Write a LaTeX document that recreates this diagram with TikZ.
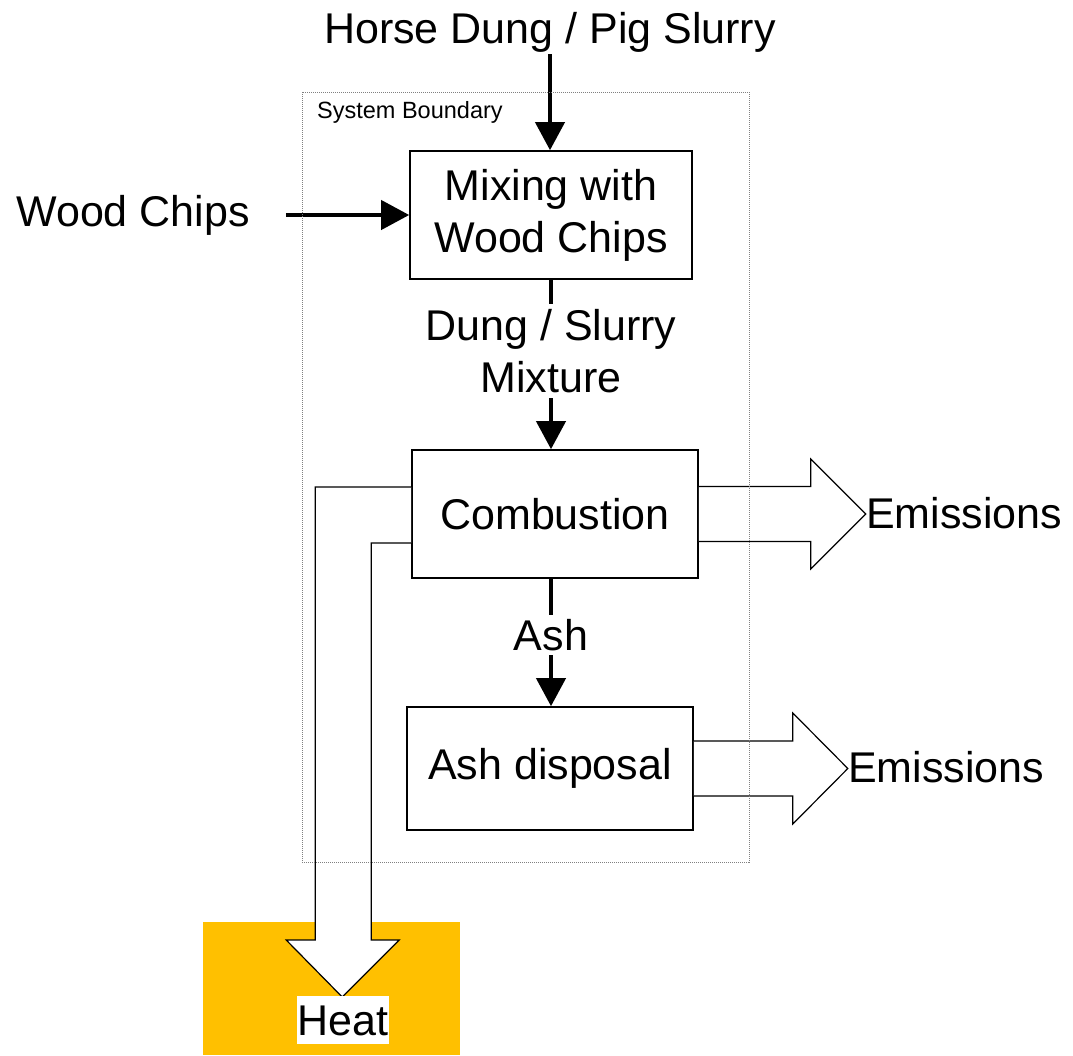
\documentclass[tikz,border=0pt]{standalone}
\usepackage{fontspec}
\setmainfont{Liberation Sans}
\usetikzlibrary{calc,positioning,arrows.meta}
\definecolor{heatorange}{HTML}{FFC000}
\definecolor{boundgray}{gray}{0.5}

\begin{document}
\begin{tikzpicture}[x=1pt,y=-1pt,
        every node/.style={font=\fontsize{43}{52}\selectfont, inner sep=2pt},
        process/.style={draw, line width=1.6pt, fill=white, align=center, inner sep=0pt},
        flow/.style={line width=4pt, -{Triangle[length=28pt,width=29pt]}},
        hollow/.style={draw, line width=1.2pt, fill=white, line join=miter},
        lbl/.style={fill=white, align=center, inner sep=4pt}]
        \useasboundingbox (0,0) rectangle (1073,1055);

        % Heat sink
        \node[fill=heatorange, minimum width=257pt, minimum height=133pt, inner sep=0pt] (heatbox) at (331.5,988.5) {};

        % Processes
        \node[process, minimum width=282pt, minimum height=128pt] (mix) at (551,215) {Mixing with\\Wood Chips};
        \node[process, minimum width=286pt, minimum height=128pt] (comb) at (555,514) {Combustion};
        \node[process, minimum width=286pt, minimum height=123pt] (ashd) at (550,768.5) {Ash disposal};

        % Inputs and outputs
        \node[anchor=base] (horse) at (550,43) {Horse Dung / Pig Slurry};
        \node[anchor=base] (wood) at (133,226) {Wood Chips};
        \node[anchor=base west, inner sep=0pt] (emis1) at (866,528) {Emissions};
        \node[anchor=base west, inner sep=0pt] (emis2) at (848,782) {Emissions};

        % Material flows
        \draw[flow] (horse.south) -- (horse.south |- mix.north);
        \draw[flow] ([xshift=34pt]wood.east |- mix.west) -- (mix.west);
        \draw[flow] (mix.south) -- node[lbl, pos=0.42, inner ysep=5pt] (dunglbl) {Dung / Slurry\\Mixture} (mix.south |- comb.north);
        \draw[flow] (mix.south |- comb.south) -- node[lbl, pos=0.44] (ashlbl) {Ash} (mix.south |- ashd.north);

        % Emissions
        \path[hollow] ($(comb.east)+(0,-27.5)$) -- ++(112,0) -- ++(0,-27.5) -- ++(55,55) -- ++(-55,55) -- ++(0,-27.5) -- ++(-112,0);
        \path[hollow] ($(ashd.east)+(0,-27.5)$) -- ++(99,0) -- ++(0,-28) -- ++(55,55.5) -- ++(-55,55.5) -- ++(0,-28) -- ++(-99,0);

        % Heat
        \path[hollow] ($(comb.west)+(0,-27)$) -- ++(-96,0) -- ++(0,453) -- ++(-29,0) -- ++(56,57) -- ++(57,-57) -- ++(-28,0) -- ++(0,-397) -- ++(40,0);
        \node[anchor=base, fill=white, inner xsep=1pt, inner ysep=9pt] (heat) at (343,1035) {Heat};

        % System boundary
        \draw[boundgray, line width=0.8pt, dash pattern=on 1pt off 1pt] (302,92) rectangle (749,862);
        \node[anchor=base west, inner sep=0pt, font=\fontsize{23.5}{28}\selectfont] (sysb) at (317,118) {System Boundary};
\end{tikzpicture}
\end{document}
